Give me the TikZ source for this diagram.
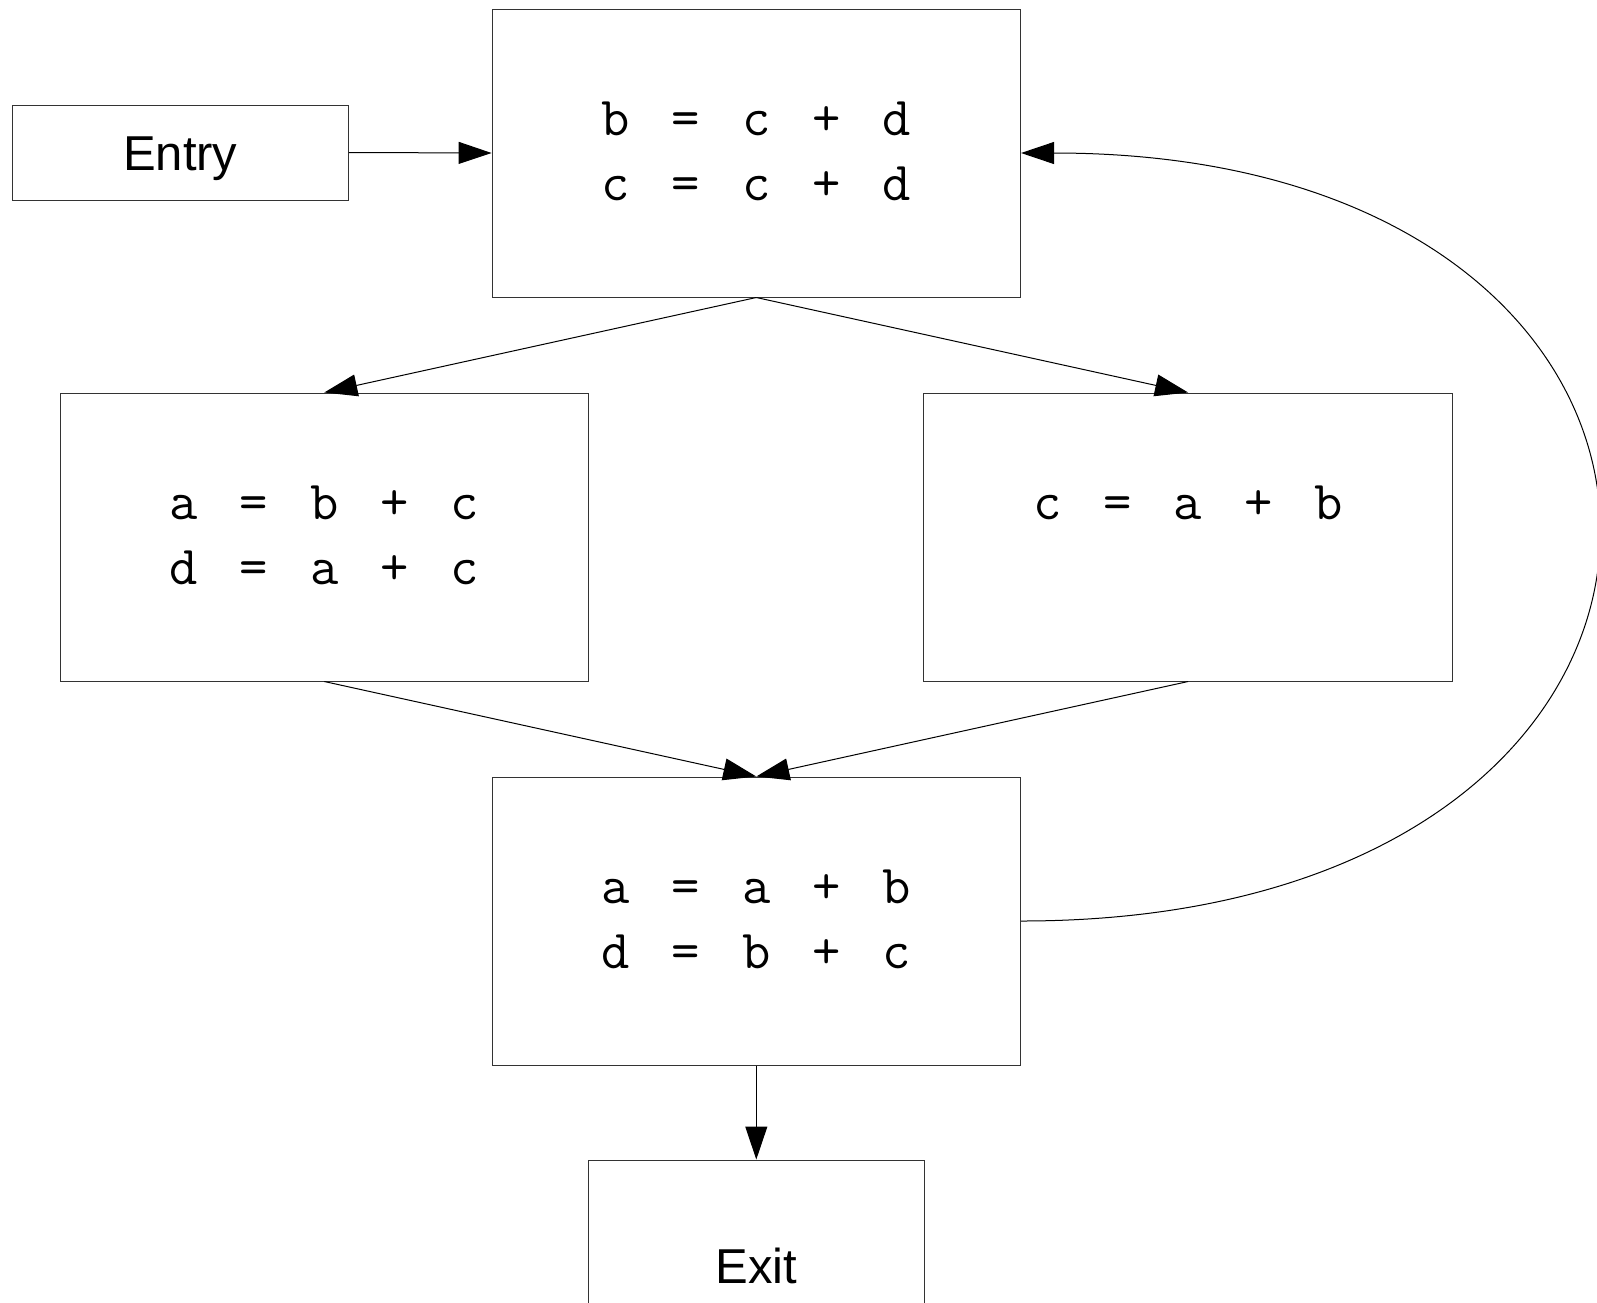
\documentclass[tikz,border=0pt]{standalone}
\usepackage{fontspec}
\setmainfont{Liberation Sans}
\usetikzlibrary{arrows.meta}

\newcommand{\codestyle}{\ttfamily\fontsize{55}{65}\selectfont\fontdimen2\font=42pt\relax}

\tikzset{
    block/.style={draw=black!80, line width=1pt, inner sep=0pt, rectangle},
    codeblock/.style={block, minimum width=528.5pt, text height=126pt, text depth=162pt,
        align=center, font=\codestyle},
    twolines/.style={text height=191pt, text depth=97pt},
    endblock/.style={block, minimum width=336pt, font=\fontsize{49}{55}\selectfont},
    flow/.style={line width=1pt, -{Triangle[length=33pt, width=22pt]}}
}

\begin{document}
\begin{tikzpicture}[x=1pt, y=-1pt]
                \useasboundingbox (0, 0) rectangle (1597, 1302);
                % Blocks:
                \node[endblock, text height=65pt, text depth=30pt](entry) at (180.3, 152.5){Entry};
                \node[codeblock, twolines](b1) at (756.3, 153){b = c + d\\c = c + d};
                \node[codeblock, twolines](b2) at (324.3, 537){a = b + c\\d = a + c};
                \node[codeblock](b3) at (1188.1, 537){c = a + b};
                \node[codeblock, twolines](b4) at (756.3, 921){a = a + b\\d = b + c};
                \node[endblock, text height=123pt, text depth=165pt](exit) at (756.3, 1304){Exit};
                % Edges:
                \draw[flow] (entry.east) -- (b1.west);
                \draw[flow] (b1.south) -- (b2.north);
                \draw[flow] (b1.south) -- (b3.north);
                \draw[flow] (b2.south) -- (b4.north);
                \draw[flow] (b3.south) -- (b4.north);
                \draw[flow] (b4.south) -- (exit.north);
                \draw[flow] (b4.east) .. controls +(767, 0) and +(767, 0) .. (b1.east);
            \end{tikzpicture}
\end{document}
